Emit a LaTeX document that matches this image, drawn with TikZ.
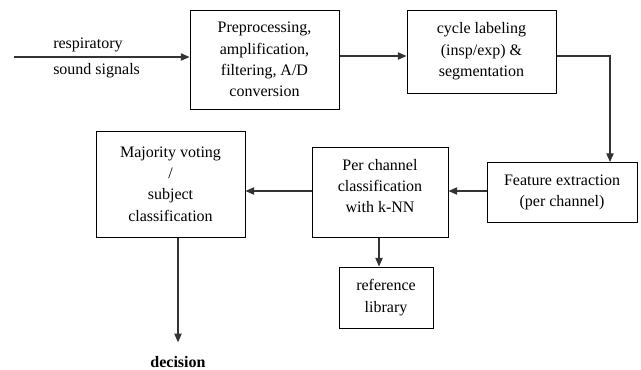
\documentclass[tikz,border=0pt]{standalone}
\usepackage{fontspec}
\setmainfont{Liberation Serif}
\usepackage{tikz}
\usetikzlibrary{positioning,arrows.meta,calc}
\tikzset{
blk/.style={
  draw,
  line width=0.75pt,
  align=center,
  inner sep=2pt,
  font=\fontsize{12}{16}\selectfont
},
pfeil/.style={
  draw=black!80,
  line width=0.8pt,
  -{Triangle[length=6.5pt,width=5.5pt]}
},
lbl/.style={
  font=\fontsize{12}{16}\selectfont,
  inner sep=0pt
}
}

\begin{document}
\begin{tikzpicture}[x=0.75pt,y=-0.75pt]
  \useasboundingbox (0,0) rectangle (641,369);

  \node[blk,minimum width=111.75pt,minimum height=74.25pt] at (264.5,59.5)
    (pre) {Preprocessing,\\amplification,\\filtering, A/D\\conversion};
  \node[blk,minimum width=111.75pt,minimum height=62.25pt] at (481.5,51.5)
    (cyc) {cycle labeling\\(insp/exp) \&\\segmentation};
  \node[blk,minimum width=112.5pt,minimum height=45pt] at (562,192.5)
    (feat) {Feature extraction\\(per channel)};
  \node[blk,minimum width=102pt,minimum height=67.5pt] at (380,192)
    (perch) {Per channel\\classification\\with k-NN\\[-7pt]};
  \node[blk,minimum width=70.5pt,minimum height=45.75pt] at (386,297.5)
    (ref) {reference\\library};
  \node[blk,minimum width=111.75pt,minimum height=79.5pt] at (170.5,184)
    (maj) {Majority voting\\/\\subject\\classification};

  \node[lbl,anchor=base west] at (53,48) (resp) {respiratory};
  \node[lbl,anchor=base west] at (53,74) (sound) {sound signals};
  \node[lbl,anchor=base,font=\fontsize{12}{16}\selectfont\bfseries] at (178,367) (dec) {decision};
  \coordinate (src) at (14,57);

  \draw[pfeil] (src) -- (src -| pre.west);
  \draw[pfeil] (pre.east |- 0,56) -- (cyc.west |- 0,56);
  \draw[pfeil] (cyc.east |- 0,56) -| ([xshift=36pt]feat.north);
  \draw[pfeil] (feat.west |- 0,191) -- (perch.east |- 0,191);
  \draw[pfeil] (perch.west |- 0,191) -- (maj.east |- 0,191);
  \draw[pfeil] (perch.south -| 379,0) -- (ref.north -| 379,0);
  \draw[pfeil] (maj.south -| dec) -- ([yshift=10pt]dec.north);
\end{tikzpicture}
\end{document}
